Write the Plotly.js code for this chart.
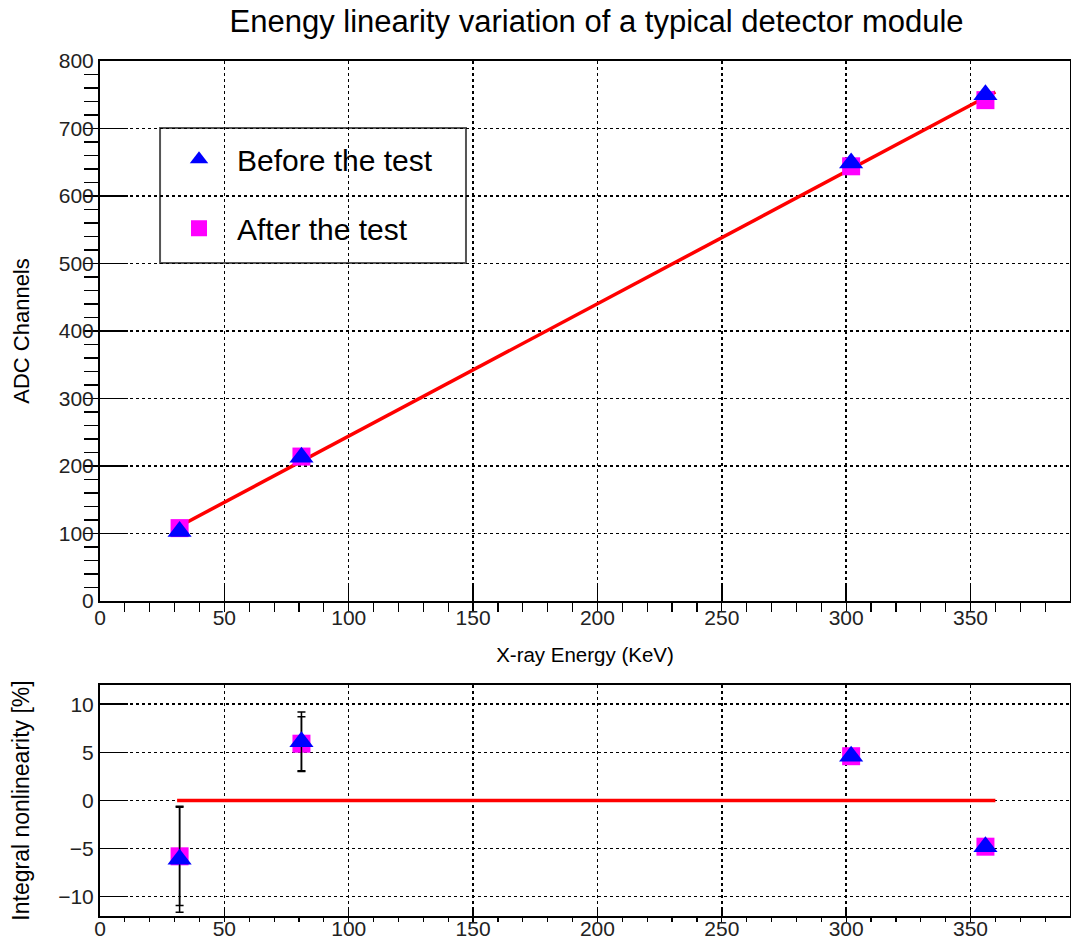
<!DOCTYPE html>
<html>
<head>
<meta charset="utf-8">
<script src="https://cdn.plot.ly/plotly-3.0.1.min.js"></script>
<style>html,body{margin:0;padding:0;background:#fff;}#chart{width:1071px;height:940px;}</style>
</head>
<body>
<div id="chart"></div>
<script>
// ---- data ----
const energy = [32, 81, 302, 356];
const adcBefore = [103, 213, 649, 750];
const adcAfter = [108, 214, 644, 742];
const fitX = [31, 360];
const fitY = [109, 754];
const inlBefore = [-6.1, 6.1, 4.6, -4.8];
const inlBeforeErr = [5.5, 3.1, 0.2, 0.2];
const inlAfter = [-5.8, 5.9, 4.6, -4.8];
const inlAfterErr = [5.1, 2.8, 0.2, 0.2];
const zeroX = [31, 360];
const zeroY = [0, 0];
const seriesNames = ['Before the test', 'After the test'];
const titleText = 'Enengy linearity variation of a typical detector module';
const xTitle = 'X-ray Energy (KeV)';
const yTitleTop = 'ADC Channels';
const yTitleBottom = 'Integral nonlinearity [%]';

const FONT = 'Liberation Sans, Arial, sans-serif';
const BLUE = '#0000ff', MAG = '#ff00ff', RED = '#ff0000';

const traces = [
  {x: fitX, y: fitY, xaxis: 'x', yaxis: 'y', mode: 'lines', line: {color: RED, width: 3.5}, showlegend: false, hoverinfo: 'skip'},
  {x: energy, y: adcAfter, xaxis: 'x', yaxis: 'y', mode: 'markers', name: seriesNames[1], legendgroup: 'b', legendrank: 2,
   marker: {symbol: 'square', size: 18, color: MAG}},
  {x: energy, y: adcBefore, xaxis: 'x', yaxis: 'y', mode: 'markers', name: seriesNames[0], legendgroup: 'a', legendrank: 1,
   marker: {symbol: 'triangle-up', size: 21, color: BLUE}},
  {x: zeroX, y: zeroY, xaxis: 'x2', yaxis: 'y2', mode: 'lines', line: {color: RED, width: 3.5}, showlegend: false, hoverinfo: 'skip'},
  {x: energy, y: inlAfter, xaxis: 'x2', yaxis: 'y2', mode: 'markers', showlegend: false,
   error_y: {type: 'data', array: inlAfterErr, color: '#000', thickness: 1.5, width: 4},
   marker: {symbol: 'square', size: 18, color: MAG}},
  {x: energy, y: inlBefore, xaxis: 'x2', yaxis: 'y2', mode: 'markers', showlegend: false,
   error_y: {type: 'data', array: inlBeforeErr, color: '#000', thickness: 1.5, width: 4},
   marker: {symbol: 'triangle-up', size: 21, color: BLUE}}
];

const tickFont = {family: FONT, size: 21, color: '#222'};
const gridCommon = {showgrid: true, gridcolor: '#000', gridwidth: 1.5, griddash: 'dot', zeroline: false,
  showline: true, linecolor: '#000', linewidth: 2, mirror: true, ticks: 'inside', tickcolor: '#000', tickwidth: 1.5};

const layout = {
  width: 1071, height: 940,
  margin: {l: 100, r: 1, t: 61, b: 24},
  paper_bgcolor: '#fff', plot_bgcolor: '#fff',
  font: {family: FONT, color: '#000'},
  title: {text: titleText, font: {family: FONT, size: 31, color: '#000'}, x: 0.557, xanchor: 'center', y: 0.977, yanchor: 'middle'},
  showlegend: true,
  legend: {x: 0.0629, y: 0.9155, xanchor: 'left', yanchor: 'top', bgcolor: 'rgba(0,0,0,0)', borderwidth: 0,
    font: {family: FONT, size: 30, color: '#000'}, traceorder: 'grouped', tracegroupgap: 27, itemsizing: 'trace', itemwidth: 66},
  xaxis: Object.assign({}, gridCommon, {domain: [0, 1], anchor: 'y', range: [0, 390], dtick: 50, tick0: 0,
    ticklen: 18, minor: {dtick: 10, ticklen: 9, tickcolor: '#000', tickwidth: 1.2, showgrid: false},
    tickfont: tickFont, ticklabelstandoff: -3, title: {text: xTitle, font: {family: FONT, size: 20.5, color: '#000'}, standoff: 19}}),
  yaxis: Object.assign({}, gridCommon, {domain: [0.3684, 1], anchor: 'x', range: [0, 800], dtick: 100, tick0: 0,
    ticklen: 28, minor: {dtick: 20, ticklen: 14, tickcolor: '#000', tickwidth: 1.2, showgrid: false},
    tickfont: tickFont, title: {text: yTitleTop, font: {family: FONT, size: 22, color: '#000'}, standoff: 23}}),
  xaxis2: Object.assign({}, gridCommon, {domain: [0, 1], anchor: 'y2', range: [0, 390], dtick: 50, tick0: 0,
    ticklen: 7, minor: {dtick: 10, ticklen: 4, tickcolor: '#000', tickwidth: 1.2, showgrid: false},
    tickfont: tickFont, ticklabelstandoff: -7}),
  yaxis2: Object.assign({}, gridCommon, {domain: [0, 0.2702], anchor: 'x2', range: [-12, 12], dtick: 5, tick0: 0,
    ticklen: 28,
    tickfont: tickFont, title: {text: yTitleBottom, font: {family: FONT, size: 23, color: '#000'}, standoff: 22}}),
  shapes: [
    {type: 'rect', xref: 'paper', yref: 'paper', x0: 0.0619, x1: 0.3773, y0: 0.7637, y1: 0.9216,
     line: {color: '#555', width: 2}, fillcolor: '#fff', layer: 'below'}
  ]
};

Plotly.newPlot('chart', traces, layout, {displayModeBar: false, staticPlot: true});
</script>
</body>
</html>
